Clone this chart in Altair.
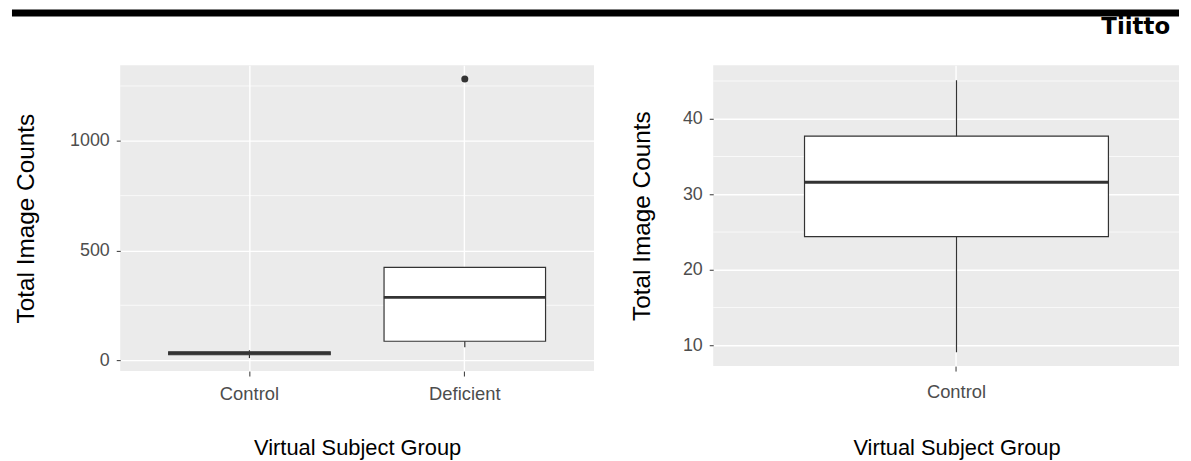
import altair as alt
import pandas as pd

# ---------------- data ----------------
header_text = "Tiitto"
x_title = "Virtual Subject Group"
y_title = "Total Image Counts"

# left panel: Control vs Deficient
left_groups = ["Control", "Deficient"]
left_whisker_low = [9.1, 59.0]
left_q1 = [24.4, 86.0]
left_median = [31.6, 286.0]
left_q3 = [37.7, 423.0]
left_whisker_high = [45.1, 423.0]
left_outlier_groups = ["Deficient"]
left_outlier_values = [1282.0]
left_y_domain = [-50, 1345]
left_y_ticks = [0, 500, 1000]
left_y_minor = [250, 750, 1250]

# right panel: Control only
right_groups = ["Control"]
right_whisker_low = [9.1]
right_q1 = [24.4]
right_median = [31.6]
right_q3 = [37.7]
right_whisker_high = [45.1]
right_outlier_groups = []
right_outlier_values = []
right_y_domain = [7.25, 47.1]
right_y_ticks = [10, 20, 30, 40]
right_y_minor = [15, 25, 35, 45]

DARK = "#333333"
LABEL = "#4D4D4D"


def panel(groups, lo, q1, med, q3, hi, og, ov, ydom, yticks, yminor,
          width, height, x_scale, box_px, label_pad, title_pad_x,
          title_pad_y, title_x=None, extra=None):
    box_df = pd.DataFrame({"group": groups, "lo": lo, "q1": q1,
                           "med": med, "q3": q3, "hi": hi})
    out_df = pd.DataFrame({"group": og, "value": ov})
    minor_df = pd.DataFrame({"v": yminor})

    xaxis_kw = dict(title=x_title, labelAngle=0, grid=True, gridColor="white",
                    gridWidth=1.4, bandPosition=0.5, domain=False, tickSize=5,
                    tickColor=DARK, tickWidth=1, labelPadding=label_pad,
                    titlePadding=title_pad_x, labelFontSize=18.5,
                    labelColor=LABEL, titleFontSize=22, titleColor="black")
    if title_x is not None:
        xaxis_kw["titleX"] = title_x
    x_axis = alt.Axis(**xaxis_kw)
    y_axis = alt.Axis(title=y_title, values=yticks, format="d", grid=True,
                      gridColor="white", gridWidth=1.4, domain=False,
                      tickSize=4, tickColor=DARK, tickWidth=1, labelPadding=7,
                      titlePadding=title_pad_y, labelFontSize=18,
                      labelColor=LABEL, titleFontSize=24.5, titleColor="black")
    y_scale = alt.Scale(domain=ydom, nice=False, zero=False)
    x_enc = alt.X("group:N", sort=groups, scale=x_scale, axis=x_axis)

    minor = alt.Chart(minor_df).mark_rule(color="white", strokeWidth=0.7).encode(
        y=alt.Y("v:Q", scale=y_scale, axis=y_axis))
    base = alt.Chart(box_df)
    whisk = base.mark_rule(color=DARK, strokeWidth=1.2).encode(
        x=x_enc, y=alt.Y("lo:Q", scale=y_scale, axis=y_axis), y2="hi:Q")
    box = base.mark_bar(fill="white", stroke=DARK, strokeWidth=1.2).encode(
        x=x_enc, y=alt.Y("q1:Q", scale=y_scale, axis=y_axis), y2="q3:Q")
    median = base.mark_tick(color=DARK, thickness=3, size=box_px,
                            orient="horizontal", opacity=1).encode(
        x=x_enc, y=alt.Y("med:Q", scale=y_scale, axis=y_axis))
    layers = [minor, whisk, box, median]
    if len(ov) > 0:
        outl = alt.Chart(out_df).mark_circle(color=DARK, size=50, opacity=1).encode(
            x=x_enc, y=alt.Y("value:Q", scale=y_scale, axis=y_axis))
        layers.append(outl)
    if extra:
        layers.extend(extra)
    return alt.layer(*layers).properties(
        width=width, height=height,
        view=alt.ViewBackground(fill="#EBEBEB", strokeWidth=0))


# header band and running head, drawn relative to the left plot's origin
hdr_df = pd.DataFrame({"t": [header_text]})
bar = alt.Chart(hdr_df).mark_rule(color="black", strokeWidth=7).encode(
    x=alt.value(-109), x2=alt.value(1066), y=alt.value(-52.5))
label = alt.Chart(hdr_df).mark_text(align="right", baseline="alphabetic",
                                     font="DejaVu Sans", fontWeight="bold",
                                     fontSize=23, color="black").encode(
    text="t:N", x=alt.value(1057), y=alt.value(-31))

left = panel(left_groups, left_whisker_low, left_q1, left_median, left_q3,
             left_whisker_high, left_outlier_groups, left_outlier_values,
             left_y_domain, left_y_ticks, left_y_minor,
             width=477, height=308,
             x_scale=alt.Scale(paddingInner=0.25, paddingOuter=0.225),
             box_px=163, label_pad=9, title_pad_x=34.5, title_pad_y=31,
             extra=[bar, label])

right = panel(right_groups, right_whisker_low, right_q1, right_median, right_q3,
              right_whisker_high, right_outlier_groups, right_outlier_values,
              right_y_domain, right_y_ticks, right_y_minor,
              width=469, height=303,
              x_scale=alt.Scale(paddingInner=0.25, paddingOuter=0.1998, align=0.564),
              box_px=306, label_pad=12, title_pad_x=36.5, title_pad_y=28,
              title_x=245)

chart = alt.hconcat(left, right, spacing=120, bounds="flush").configure(
    background="white", padding=0,
    font="Liberation Sans",
).configure_axis(labelFont="Liberation Sans", titleFont="Liberation Sans",
                 titleFontWeight="normal").configure_view(strokeWidth=0)

chart.save("out.html", embed_options={"renderer": "svg", "actions": False})
